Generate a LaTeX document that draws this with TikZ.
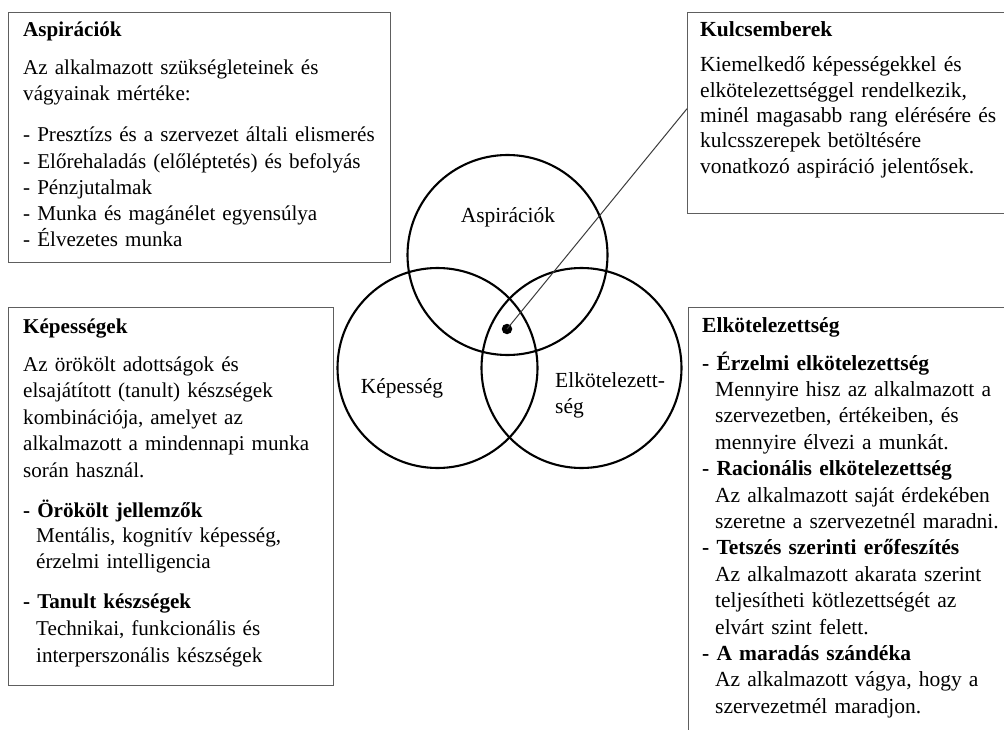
\documentclass[tikz,border=0pt]{standalone}
\usepackage{fontspec}
\setmainfont{Liberation Serif}
\definecolor{boxgray}{HTML}{5E5E5E}
\definecolor{linegray}{HTML}{3C3C3C}
\newcommand\hind{\hspace*{13pt}}
\begin{document}
\begin{tikzpicture}[x=1pt,y=-1pt,
  box/.style={draw=boxgray, line width=1.4pt, rectangle, inner sep=0pt, anchor=north west},
  ring/.style={draw=black, line width=2.1pt, circle, inner sep=0pt, minimum size=200pt},
  txt/.style 2 args={anchor=base west, inner sep=0pt, align=left, text width=#1, font={\fontsize{21.5}{#2}\selectfont}},
  ltxt/.style 2 args={anchor=base west, inner sep=0pt, align=left, text width=#1, font={\fontsize{21.1}{#2}\selectfont}},
  lbl/.style={inner sep=0pt, anchor=base, font={\fontsize{21.5}{26}\selectfont}},
  conn/.style={draw=linegray, line width=1pt},
  dotnode/.style={circle, fill=black, inner sep=0pt, minimum size=10.5pt}]
\useasboundingbox (0,0) rectangle (1004,730);
\fill[white] (0,0) rectangle (1004,730);
% boxes
\node[box, minimum width=382pt, minimum height=250pt] (aspbox) at (8,12) {};
\node[box, minimum width=330pt, minimum height=201pt] (kulbox) at (687,12) {};
\node[box, minimum width=325pt, minimum height=378pt] (kepbox) at (8,307) {};
\node[box, minimum width=330pt, minimum height=440pt] (elkbox) at (688,307) {};
% Aspirációk box text
\node[ltxt={360pt}{25.5pt}] (asptitle) at (23,37) {\textbf{Aspirációk}};
\node[ltxt={360pt}{25.5pt}] (aspbody) at (23,75) {Az alkalmazott szükségleteinek és\\vágyainak mértéke:};
\node[ltxt={360pt}{26.2pt}] (asplist) at (23,142) {- Presztízs és a szervezet általi elismerés\\- Előrehaladás (előléptetés) és befolyás\\- Pénzjutalmak\\- Munka és magánélet egyensúlya\\- Élvezetes munka};
% Kulcsemberek box text
\node[txt={300pt}{25.3pt}] (kultitle) at (700,37) {\textbf{Kulcsemberek}};
\node[txt={300pt}{25.3pt}] (kulbody) at (700,72) {Kiemelkedő képességekkel és\\elkötelezettséggel rendelkezik,\\minél magasabb rang elérésére és\\kulcsszerepek betöltésére\\vonatkozó aspiráció jelentősek.};
% Képességek box text
\node[ltxt={305pt}{26.5pt}] (keptitle) at (23,333) {\textbf{Képességek}};
\node[ltxt={305pt}{26.5pt}] (kepbody) at (23,371) {Az örökölt adottságok és\\elsajátított (tanult) készségek\\kombinációja, amelyet az\\alkalmazott a mindennapi munka\\során használ.};
\node[ltxt={305pt}{25.5pt}] (kepitem1) at (23,517) {\textbf{- Örökölt jellemzők}\\\hind Mentális, kognitív képesség,\\\hind érzelmi intelligencia};
\node[ltxt={305pt}{27pt}] (kepitem2) at (23,608) {\textbf{- Tanult készségek}\\\hind Technikai, funkcionális és\\\hind interperszonális készségek};
% Elkötelezettség box text
\node[txt={300pt}{26.4pt}] (elktitle) at (702,332) {\textbf{Elkötelezettség}};
\node[txt={300pt}{26.4pt}] (elklist) at (702,370) {\textbf{- Érzelmi elkötelezettség}\\\hind Mennyire hisz az alkalmazott a\\\hind szervezetben, értékeiben, és\\\hind mennyire élvezi a munkát.\\\textbf{- Racionális elkötelezettség}\\\hind Az alkalmazott saját érdekében\\\hind szeretne a szervezetnél maradni.\\\textbf{- Tetszés szerinti erőfeszítés}\\\hind Az alkalmazott akarata szerint\\\hind teljesítheti kötlezettségét az\\\hind elvárt szint felett.\\\textbf{- A maradás szándéka}\\\hind Az alkalmazott vágya, hogy a\\\hind szervezetmél maradjon.};
% Venn circles
\node[ring] (cA) at (507.5,255) {};
\node[ring] (cK) at (437.5,368) {};
\node[ring] (cE) at (581.5,368) {};
\node[lbl] (lA) at (508,223) {Aspirációk};
\node[lbl] (lK) at (402,393) {Képesség};
\node[txt={120pt}{26pt}] (lE) at (555,387) {Elkötelezett-\\ség};
% key people marker
\node[dotnode] (dot) at (507,329) {};
\draw[conn] (dot.center) -- ([yshift=4.5pt]kulbox.west);
\end{tikzpicture}
\end{document}
